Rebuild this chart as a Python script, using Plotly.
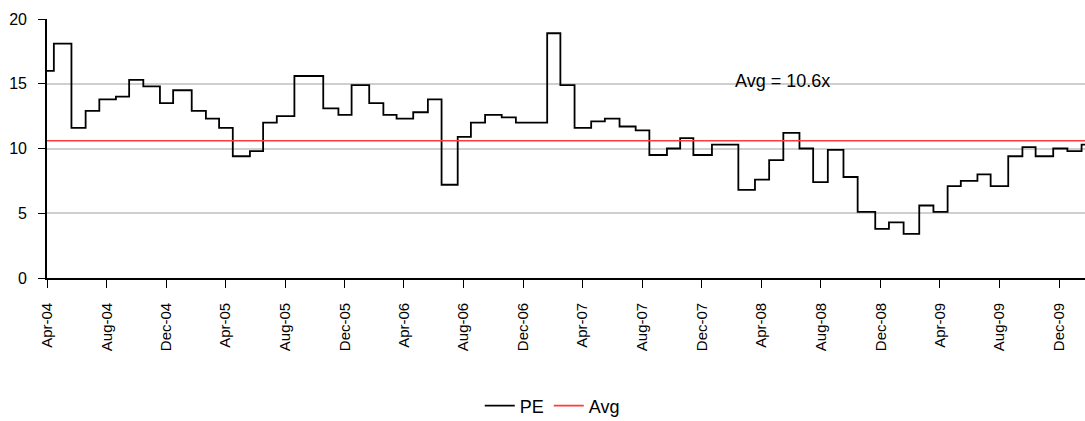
import plotly.graph_objects as go

# Dates on which the PE multiple changed, and the value from that date on
change_dates = [
    "2004-04-01", "2004-04-15", "2004-05-21", "2004-06-19", "2004-07-17", "2004-08-20",
    "2004-09-16", "2004-10-15", "2004-11-18", "2004-12-15", "2005-01-22", "2005-02-20",
    "2005-03-19", "2005-04-16", "2005-05-21", "2005-06-17", "2005-07-15", "2005-08-20",
    "2005-10-18", "2005-11-18", "2005-12-15", "2006-01-20", "2006-02-18", "2006-03-17",
    "2006-04-20", "2006-05-20", "2006-06-17", "2006-07-20", "2006-08-16", "2006-09-14",
    "2006-10-18", "2006-11-16", "2007-01-19", "2007-02-15", "2007-03-16", "2007-04-19",
    "2007-05-17", "2007-06-16", "2007-07-19", "2007-08-16", "2007-09-21", "2007-10-18",
    "2007-11-14", "2007-12-22", "2008-02-14", "2008-03-19", "2008-04-17", "2008-05-16",
    "2008-06-18", "2008-07-16", "2008-08-15", "2008-09-16", "2008-10-15", "2008-11-20",
    "2008-12-18", "2009-01-17", "2009-02-18", "2009-03-19", "2009-04-17", "2009-05-14",
    "2009-06-17", "2009-07-14", "2009-08-19", "2009-09-17", "2009-10-14", "2009-11-19",
    "2009-12-18", "2010-01-16",
]
pe_values = [
    16.0, 18.1, 11.6, 12.9, 13.8, 14.0,
    15.3, 14.8, 13.5, 14.5, 12.9, 12.3,
    11.6, 9.4, 9.8, 12.0, 12.5, 15.6,
    13.1, 12.6, 14.9, 13.5, 12.6, 12.3,
    12.8, 13.8, 7.2, 10.9, 12.0, 12.6,
    12.4, 12.0, 18.9, 14.9, 11.6, 12.1,
    12.3, 11.7, 11.4, 9.5, 10.0, 10.8,
    9.5, 10.3, 6.8, 7.6, 9.1, 11.2,
    10.0, 7.4, 9.9, 7.8, 5.1, 3.8,
    4.3, 3.4, 5.6, 5.1, 7.1, 7.5,
    8.0, 7.1, 9.4, 10.1, 9.4, 10.0,
    9.8, 10.3,
]
series_end = "2010-01-23"
avg_pe = 10.6

# carry the last value through to the end of the series
x_pe = change_dates + [series_end]
y_pe = pe_values + [pe_values[-1]]

FONT = "Liberation Sans, Arial, sans-serif"

fig = go.Figure()
fig.add_trace(go.Scatter(
    x=x_pe, y=y_pe, name="PE", mode="lines",
    line=dict(color="black", width=1.8, shape="hv"),
))
fig.add_trace(go.Scatter(
    x=[change_dates[0], series_end], y=[avg_pe, avg_pe], name="Avg", mode="lines",
    line=dict(color="#ff3b3b", width=1.7),
))

fig.add_annotation(
    x="2008-02-03", y=15.25, xref="x", yref="y",
    text=f"Avg = {avg_pe:.1f}x", showarrow=False,
    xanchor="left", yanchor="middle",
    font=dict(family=FONT, size=18, color="black"),
)

fig.update_layout(
    width=1085, height=421,
    margin=dict(l=47, r=0, t=19, b=143),
    paper_bgcolor="white", plot_bgcolor="white",
    font=dict(family=FONT, color="black"),
    showlegend=True,
    legend=dict(
        orientation="h", xref="container", yref="container",
        x=0.509, y=0.036, xanchor="center", yanchor="middle",
        font=dict(family=FONT, size=18, color="black"),
        bgcolor="rgba(0,0,0,0)",
    ),
)

fig.update_xaxes(
    type="date",
    range=[change_dates[0], series_end],
    tick0="2004-04-01", dtick="M4", tickformat="%b-%y",
    tickangle=-90, ticklabelstandoff=9,
    ticks="outside", ticklen=8, tickwidth=1.3, tickcolor="black",
    tickfont=dict(family=FONT, size=15, color="black"),
    showgrid=False, zeroline=False,
    showline=True, linecolor="black", linewidth=1.6,
)
fig.update_yaxes(
    range=[0, 20], dtick=5, ticklabelstandoff=8,
    ticks="outside", ticklen=7, tickwidth=1.3, tickcolor="black",
    tickfont=dict(family=FONT, size=16, color="black"),
    showgrid=True, gridcolor="#cfcfcf", gridwidth=1.6,
    zeroline=False,
    showline=True, linecolor="black", linewidth=1.6,
)

fig.write_html("out.html")
